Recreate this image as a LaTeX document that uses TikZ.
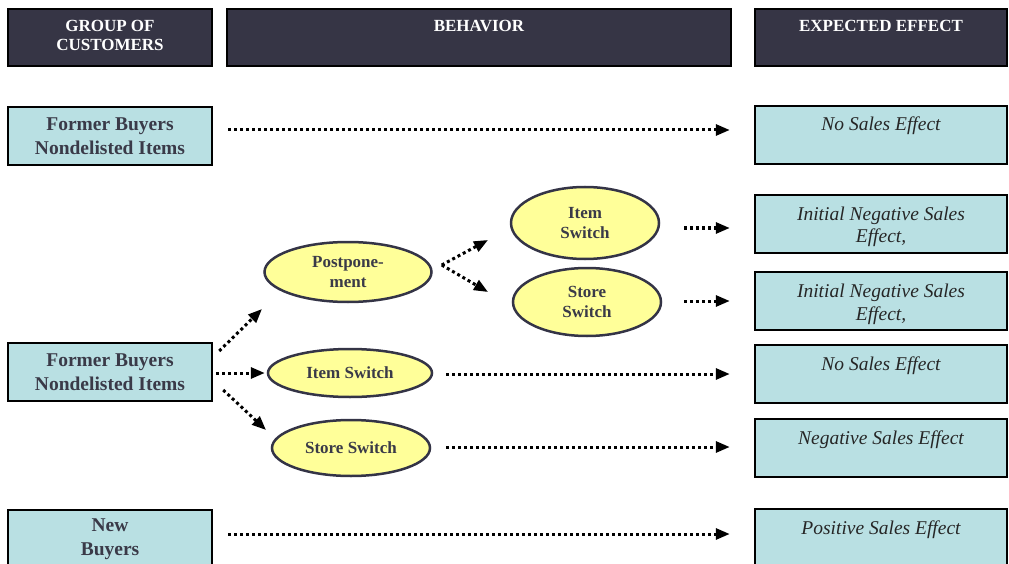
\documentclass[tikz,border=0pt]{standalone}
\usepackage{fontspec}
\setmainfont{Liberation Serif}
\usepackage{tikz}
\usetikzlibrary{arrows.meta, positioning, calc, shapes.geometric}
\usepackage{xcolor}
\definecolor{headdark}{RGB}{54,53,69}
\definecolor{boxcyan}{RGB}{185,224,227}
\definecolor{ovalyellow}{RGB}{255,255,153}
\definecolor{ovalline}{RGB}{52,52,70}
\definecolor{textgray}{RGB}{58,58,72}
% text hung from the top of its box
\newcommand{\toptext}[2]{\parbox[t]{#1}{\centering #2}}

\begin{document}
\begin{tikzpicture}[
  x=1pt, y=-1pt,
  head/.style={draw=black, line width=2.5pt, fill=headdark, text=white,
               minimum height=57pt, inner sep=0pt,
               text height=23pt, text depth=34pt,
               font=\fontsize{17}{19}\selectfont\bfseries},
  group/.style={draw=black, line width=2.5pt, fill=boxcyan, text=textgray,
                minimum width=204pt, minimum height=58pt, align=center,
                font=\fontsize{19.5}{24}\selectfont\bfseries},
  effect/.style={draw=black, line width=2.5pt, fill=boxcyan, text=black!85,
                 minimum width=252pt, minimum height=58pt, inner sep=0pt,
                 text height=25pt, text depth=33pt,
                 font=\fontsize{19.5}{23}\selectfont\itshape},
  behav/.style={ellipse, draw=ovalline, line width=2.5pt, fill=ovalyellow,
                text=textgray, inner sep=0pt, align=center,
                font=\fontsize{17}{19.5}\selectfont\bfseries},
  flow/.style={line width=3pt, dash pattern=on 3pt off 3pt,
               -{Triangle[length=14pt, width=11pt]}}
]
\useasboundingbox (0,0) rectangle (1009,564);

% headings
\node[head, minimum width=204pt] (hgroup) at (110,37.5) {\toptext{190pt}{GROUP OF\\CUSTOMERS}};
\node[head, minimum width=504pt] (hbehav) at (479,37.5) {\toptext{490pt}{BEHAVIOR}};
\node[head, minimum width=252pt] (heffect) at (881,37.5) {\toptext{240pt}{EXPECTED EFFECT}};

% groups of customers
\node[group] (fb1) at (110,136) {Former Buyers\\Nondelisted Items};
\node[group] (fb2) at (110,372) {Former Buyers\\Nondelisted Items};
\node[group] (nb) at (110,539) {New\\Buyers};

% behavior
\node[behav, minimum width=167pt, minimum height=60pt] (post) at (348,272) {Postpone-\\ment};
\node[behav, minimum width=148pt, minimum height=72pt] (is1) at (585,223) {Item\\Switch};
\node[behav, minimum width=148pt, minimum height=68pt] (ss1) at (587,302) {Store\\Switch};
\node[behav, minimum width=164pt, minimum height=48pt] (is2) at (350,373) {Item Switch};
\node[behav, minimum width=158pt, minimum height=56pt] (ss2) at (351,448) {Store Switch};

% expected effects
\node[effect] (eff1) at (881,135) {\toptext{240pt}{No Sales Effect}};
\node[effect] (eff2) at (881,224) {\toptext{240pt}{Initial Negative Sales\\Effect,}};
\node[effect] (eff3) at (881,301) {\toptext{240pt}{Initial Negative Sales\\Effect,}};
\node[effect] (eff4) at (881,374) {\toptext{240pt}{No Sales Effect}};
\node[effect] (eff5) at (881,448) {\toptext{240pt}{Negative Sales Effect}};
\node[effect] (eff6) at (881,538) {\toptext{240pt}{Positive Sales Effect}};

% connectors
\draw[flow] ($(fb1.east)+(15,-6)$) -- ($(eff1.west)+(-24,-5)$);
\draw[flow] ($(fb2.east)+(6,-21)$) -- ($(post.center)+(-86,37)$);
\draw[flow, shorten <=3pt, shorten >=2pt] (fb2.east |- is2.west) -- (is2.west);
\draw[flow] ($(fb2.east)+(10,18)$) -- ($(ss2.center)+(-85,-18)$);
\draw[flow] ($(post.east)+(9,-7)$) -- ($(is1.center)+(-97,17)$);
\draw[flow] ($(post.east)+(9,-7)$) -- ($(ss1.center)+(-99,-10)$);
\draw[flow] ($(is1.east)+(24,5)$) -- ($(eff2.west)+(-24,4)$);
\draw[flow] ($(ss1.east)+(22,-1)$) -- ($(eff3.west)+(-24,0)$);
\draw[flow] ($(is2.east)+(13,1)$) -- ($(eff4.west)+(-24,0)$);
\draw[flow] ($(ss2.east)+(15,-1)$) -- ($(eff5.west)+(-24,-1)$);
\draw[flow] ($(nb.east)+(15,-5)$) -- ($(eff6.west)+(-24,-4)$);
\end{tikzpicture}
\end{document}
